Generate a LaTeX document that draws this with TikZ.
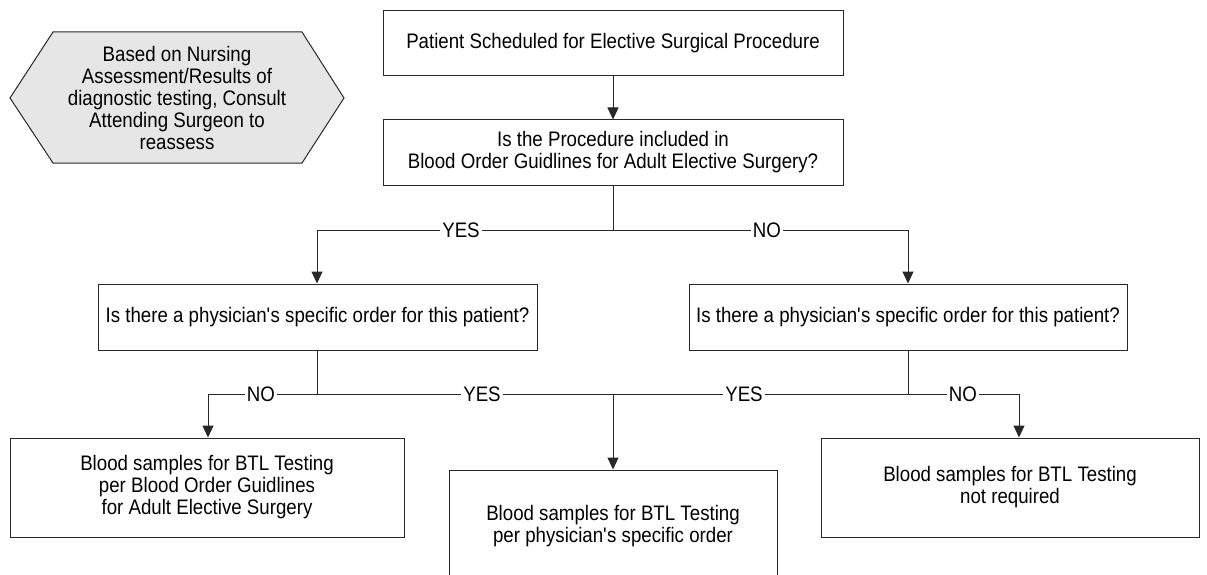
\documentclass[tikz,border=0pt]{standalone}
\usepackage{fontspec}
\setmainfont{Liberation Sans}[FakeStretch=0.89]
\usetikzlibrary{arrows.meta}
\definecolor{hexfill}{RGB}{230,230,230}
\definecolor{edge}{RGB}{40,40,40}
\begin{document}
\begin{tikzpicture}[x=1pt,y=-1pt,
  every node/.style={font=\fontsize{21}{22}\selectfont},
  box/.style={draw=edge,line width=1pt,fill=white,inner sep=0pt,align=center},
  lbl/.style={fill=white,inner sep=2pt},
  link/.style={draw=edge,line width=1pt},
  arr/.style={link,-{Triangle[length=12pt,width=11pt]}}]
\clip (0,0) rectangle (1207,575);
\fill[white] (0,0) rectangle (1207,575);
% hexagon
\draw[draw=edge,line width=1pt,fill=hexfill] (10,98) -- (53,32) -- (302,32) -- (344,98) -- (302,163) -- (53,163) -- cycle;
\node[align=center] (hex) at (177,98) {Based on Nursing\\Assessment/Results of\\diagnostic testing, Consult\\Attending Surgeon to\\reassess};
% boxes
\node[box,minimum width=460pt,minimum height=65pt] (top) at (613,43.5) {Patient Scheduled for Elective Surgical Procedure};
\node[box,minimum width=460pt,minimum height=65pt] (q1) at (613,152.5) {Is the Procedure included in\\Blood Order Guidlines for Adult Elective Surgery?};
\node[box,minimum width=439pt,minimum height=66pt] (qL) at (317.5,317) {Is there a physician\textquotesingle s specific order for this patient?};
\node[box,minimum width=438pt,minimum height=66pt] (qR) at (908,317) {Is there a physician\textquotesingle s specific order for this patient?};
\node[box,minimum width=394pt,minimum height=99pt] (bL) at (207,487.5) {Blood samples for BTL Testing\\per Blood Order Guidlines\\for Adult Elective Surgery};
\node[box,minimum width=328pt,minimum height=112pt] (bC) at (613,526) {Blood samples for BTL Testing\\per physician\textquotesingle s specific order};
\node[box,minimum width=378pt,minimum height=99pt] (bR) at (1010,487.5) {Blood samples for BTL Testing\\not required};
% junctions
\coordinate (j1) at (613,230);
\coordinate (jL) at (317,394);
\coordinate (jR) at (908,394);
\coordinate (jC) at (613,394);
% connectors
\draw[arr] (top) -- (q1);
\draw[link] (q1.south) -- (j1);
\draw[arr] (j1) -| (qL.north -| 317,0);
\draw[arr] (j1) -| (qR.north);
\draw[link] (qL.south -| jL) -- (jL);
\draw[link] (qR.south) -- (jR);
\draw[arr] (jL) -| (bL.north -| 208,0);
\draw[link] (jL) -- (jC);
\draw[link] (jR) -- (jC);
\draw[arr] (jC) -- (bC.north);
\draw[arr] (jR) -| (bR.north -| 1019,0);
% labels
\node[lbl] (yes1) at (461,230) {YES};
\node[lbl] (no1) at (767,230) {NO};
\node[lbl] (no2) at (261,394) {NO};
\node[lbl] (yes2) at (482,394) {YES};
\node[lbl] (yes3) at (744,394) {YES};
\node[lbl] (no3) at (963,394) {NO};
\end{tikzpicture}
\end{document}
